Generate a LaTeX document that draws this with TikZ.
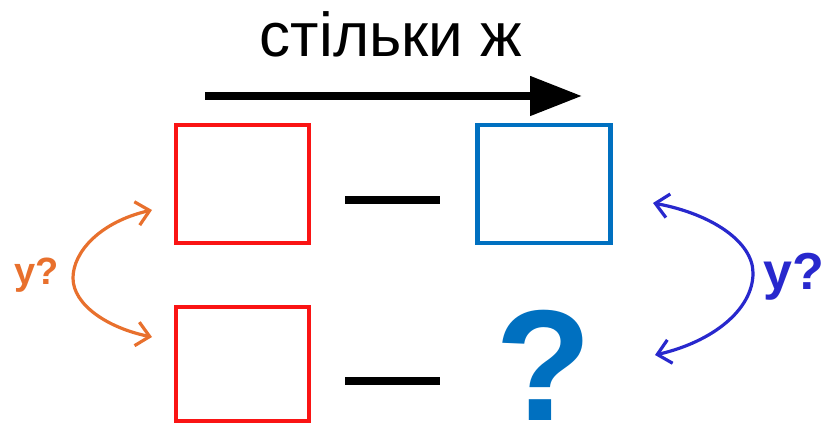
\documentclass[tikz,border=0pt]{standalone}
\usepackage{fontspec}
\setmainfont{Liberation Sans}
\usetikzlibrary{arrows.meta}
\definecolor{boxred}{RGB}{250,20,20}
\definecolor{boxblue}{RGB}{0,112,192}
\definecolor{qorange}{RGB}{232,112,45}
\definecolor{qblue}{RGB}{40,40,205}
\tikzset{
  box/.style={draw, line width=4.5pt, minimum width=133pt, minimum height=118pt, inner sep=0pt},
  minus/.style={fill=black, minimum width=95pt, minimum height=8pt, inner sep=0pt},
  bend arrow/.style={line width=3.2pt, {Straight Barb[length=13pt,width=24pt]}-{Straight Barb[length=13pt,width=24pt]}},
}
\begin{document}
\begin{tikzpicture}[x=1pt,y=-1pt]
\useasboundingbox (0,0) rectangle (829,427);
% top text and arrow
\node[anchor=base, font=\fontsize{62}{62}\selectfont, inner sep=0pt] (t) at (391,57) {стільки ж};
\coordinate (a1) at (205,96);
\coordinate (a2) at (582,96);
\draw[line width=8pt, -{Triangle[length=52pt,width=38pt]}] (a1) -- (a2);
% boxes
\node[box, draw=boxred] (tl) at (242.5,184) {};
\node[box, draw=boxblue] (tr) at (544,184) {};
\node[box, draw=boxred, minimum height=114pt] (bl) at (242.5,364) {};
% minus signs
\node[minus] (m1) at (392,200) {};
\node[minus] (m2) at (392,381) {};
% question mark
\node[anchor=base, text=boxblue, text depth=0pt, font=\bfseries\fontsize{158}{158}\selectfont, inner sep=0pt] (q) at (544,420) {?};
% left orange arrow
\coordinate (o1) at (152,210);
\coordinate (o2) at (152,337);
\draw[bend arrow, qorange] (o2) .. controls (108,328) and (73,305) .. (73,278) .. controls (73,252) and (100,222) .. (o1);
\node[anchor=base, text=qorange, font=\bfseries\fontsize{38}{38}\selectfont, inner sep=0pt] (lq) at (37,285) {у?};
% right blue arrow
\coordinate (b1) at (653,203);
\coordinate (b2) at (655,355);
\draw[bend arrow, qblue] (b1) .. controls (712,214) and (753,242) .. (753,273) .. controls (753,310) and (712,342) .. (b2);
\node[anchor=base, text=qblue, font=\bfseries\fontsize{52}{52}\selectfont, inner sep=0pt] (rq) at (794,290) {у?};
\end{tikzpicture}
\end{document}
